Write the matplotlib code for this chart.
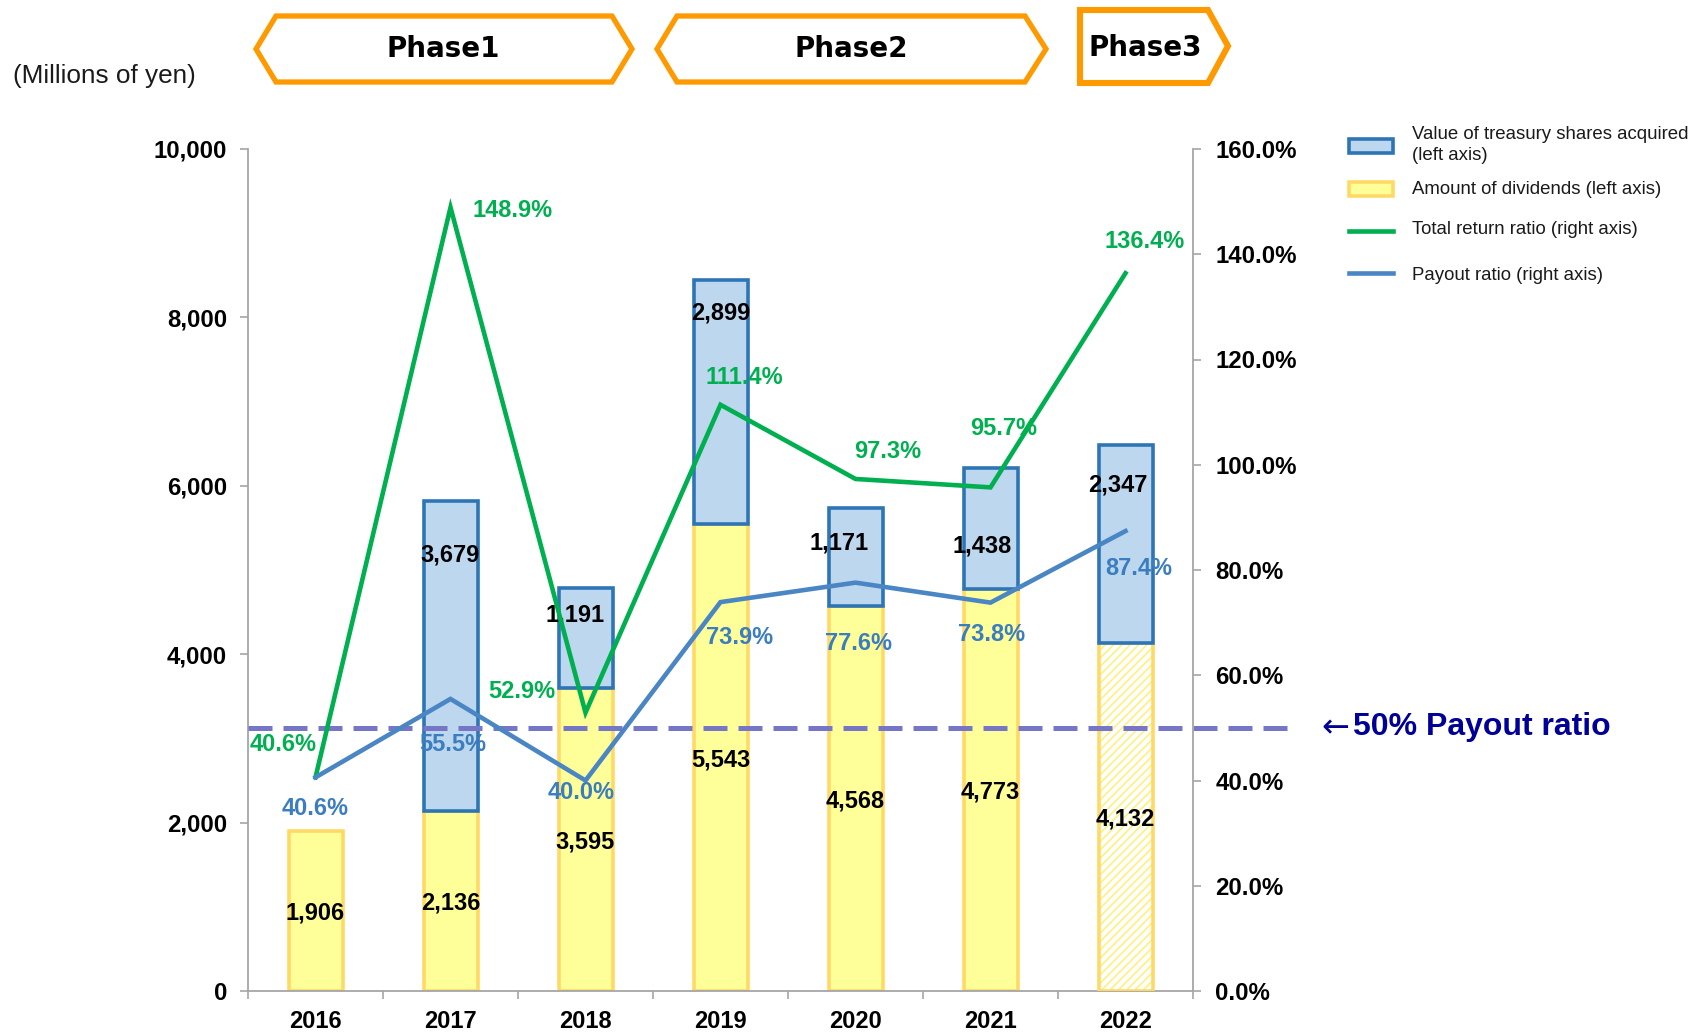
import matplotlib
matplotlib.use('Agg')
import matplotlib.pyplot as plt
from matplotlib.patches import Polygon, Rectangle
from matplotlib.lines import Line2D
import numpy as np

# ---------------- data ----------------
years = ['2016', '2017', '2018', '2019', '2020', '2021', '2022']
dividends = [1906, 2136, 3595, 5543, 4568, 4773, 4132]
treasury = [0, 3679, 1191, 2899, 1171, 1438, 2347]
total_return = [40.6, 148.9, 52.9, 111.4, 97.3, 95.7, 136.4]
payout = [40.6, 55.5, 40.0, 73.9, 77.6, 73.8, 87.4]
left_ticks = [0, 2000, 4000, 6000, 8000, 10000]
right_ticks = [0, 20, 40, 60, 80, 100, 120, 140, 160]
phases = ['Phase1', 'Phase2', 'Phase3']
legend_labels = ['Value of treasury shares acquired\n(left axis)',
                 'Amount of dividends (left axis)',
                 'Total return ratio (right axis)',
                 'Payout ratio (right axis)']
payout_target = 50

# ---------------- label placement (layout) ----------------
green_lab_pos = [(-0.24, 46.8), (0.46, 148.3), (-0.47, 57.0), (0.18, 116.5),
                 (0.24, 102.6), (0.10, 106.9), (0.14, 142.4)]
blue_lab_pos = [(0.0, 34.7), (0.02, 46.8), (-0.03, 37.7), (0.14, 67.1),
                (0.02, 66.1), (0.01, 67.7), (0.10, 80.2)]
treas_lab_pos = [None, (0.0, 5179), (-0.08, 4462), (0.0, 8051),
                 (-0.12, 5321), (-0.06, 5282), (-0.06, 6013)]

W, H = 1692, 1032
def fx(x):
    return x / W
def fy(y):
    return 1 - y / H

ARIAL = ['Liberation Sans', 'DejaVu Sans']
plt.rcParams['font.family'] = ARIAL
plt.rcParams['hatch.linewidth'] = 1.2

C_BLUE_FILL = '#BDD7EE'
C_BLUE_EDGE = '#2E75B6'
C_YEL_FILL = '#FFFF99'
C_YEL_EDGE = '#FFD966'
C_GREEN = '#00B050'
C_BLUE_LINE = '#4A86C4'
C_BLUE_TXT = '#3A7DC0'
C_ORANGE = '#FF9900'
C_AXIS = '#A6A6A6'

fig = plt.figure(figsize=(W / 100, H / 100), dpi=100)
ax = fig.add_axes([fx(248), fy(991), (1193 - 248) / W, (991 - 149) / H])
x = np.arange(len(years))
bw = 0.4

# dividends bars
for i in range(len(years)):
    if i == len(years) - 1:
        ax.bar(x[i], dividends[i], bw, color='white', edgecolor='#FFF080',
               hatch='////', linewidth=0, zorder=2)
        ax.bar(x[i], dividends[i], bw, fill=False, edgecolor=C_YEL_EDGE,
               linewidth=2.6, zorder=3)
    else:
        ax.bar(x[i], dividends[i], bw, color=C_YEL_FILL, edgecolor=C_YEL_EDGE,
               linewidth=2.6, zorder=2)
# treasury bars
for i in range(len(years)):
    if treasury[i] > 0:
        ax.bar(x[i], treasury[i], bw, bottom=dividends[i], color=C_BLUE_FILL,
               edgecolor=C_BLUE_EDGE, linewidth=2.6, zorder=3)

ax.set_xlim(-0.5, len(years) - 0.5)
ax.set_ylim(0, 10000)
ax.set_yticks(left_ticks)
ax.set_yticklabels([f'{v:,}' for v in left_ticks], fontsize=17.3, fontweight='bold')
ax.set_xticks(x)
ax.set_xticklabels(years, fontsize=17, fontweight='bold')
ax.set_xticks(np.arange(-0.5, len(years)), minor=True)
ax.tick_params(axis='x', which='major', length=0, pad=14)
ax.tick_params(axis='x', which='minor', length=6, color=C_AXIS, width=1.2)
ax.tick_params(axis='y', length=6, color=C_AXIS, width=1.2, pad=9)
for s in ['top', 'right']:
    ax.spines[s].set_visible(False)
for s in ['left', 'bottom']:
    ax.spines[s].set_color(C_AXIS)
    ax.spines[s].set_linewidth(1.3)

# value labels on bars
for i in range(len(years)):
    ax.text(x[i], dividends[i] / 2 - 25, f'{dividends[i]:,}', ha='center', va='center',
            fontsize=17, fontweight='bold', color='black', zorder=6)
    if treas_lab_pos[i] is not None:
        dx, yy = treas_lab_pos[i]
        ax.text(x[i] + dx, yy, f'{treasury[i]:,}', ha='center', va='center',
                fontsize=17, fontweight='bold', color='black', zorder=6)

# right axis
ax2 = ax.twinx()
ax2.set_ylim(0, 160)
ax2.set_yticks(right_ticks)
ax2.set_yticklabels([f'{v:.1f}%' for v in right_ticks], fontsize=17.3, fontweight='bold')
ax2.tick_params(axis='y', length=6, color=C_AXIS, width=1.2, pad=10)
for s in ['top', 'left', 'bottom']:
    ax2.spines[s].set_visible(False)
ax2.spines['right'].set_color(C_AXIS)
ax2.spines['right'].set_linewidth(1.3)

# 50% dashed line (extends past right axis)
ext = (1287 - 1193) / ((1193 - 248) / len(years))
dl, = ax2.plot([-0.5, len(years) - 0.5 + ext], [payout_target, payout_target],
               color='#7676C6', linewidth=3.6, clip_on=False, zorder=2)
dl.set_dashes((4.8, 2.2))

ax2.plot(x, total_return, color=C_GREEN, linewidth=3.3, zorder=4, solid_joinstyle='miter')
ax2.plot(x, payout, color=C_BLUE_LINE, linewidth=3.3, zorder=4, solid_joinstyle='miter')

for i in range(len(years)):
    dx, yy = green_lab_pos[i]
    ax2.text(x[i] + dx, yy, f'{total_return[i]:.1f}%', ha='center', va='center',
             fontsize=17, fontweight='bold', color=C_GREEN, zorder=6)
    dx, yy = blue_lab_pos[i]
    ax2.text(x[i] + dx, yy, f'{payout[i]:.1f}%', ha='center', va='center',
             fontsize=17, fontweight='bold', color=C_BLUE_TXT, zorder=6)

# "<-50% Payout ratio"
fig.text(fx(1321), fy(728), '\u2190', ha='left', va='center',
         fontsize=24, fontweight='normal', color='#000099', family=['DejaVu Sans'])
fig.text(fx(1353), fy(727), '50% Payout ratio', ha='left', va='center',
         fontsize=23, fontweight='bold', color='#000099', family=ARIAL)

fig.text(fx(13), fy(76), '(Millions of yen)', ha='left', va='center',
         fontsize=18.8, color='#1a1a1a')

# phase banners
def poly(pts, lw):
    p = Polygon([(fx(a), fy(b)) for a, b in pts], closed=True, fill=False,
                edgecolor=C_ORANGE, linewidth=lw, joinstyle='miter',
                transform=fig.transFigure)
    fig.add_artist(p)

poly([(256, 49), (276, 16), (612, 16), (632, 49), (612, 82), (276, 82)], 3.8)
poly([(657, 49), (677, 16), (1025, 16), (1046, 49), (1025, 82), (677, 82)], 3.8)
poly([(1080, 10), (1208, 10), (1228, 46), (1208, 83), (1080, 83)], 4.4)
for name, (px, py) in zip(phases, [(443, 49), (851, 49), (1145, 48)]):
    fig.text(fx(px), fy(py), name, ha='center', va='center', fontsize=20,
             fontweight='bold', family=['DejaVu Sans'], color='black')

# legend (manual)
def rect(x0, y0, x1, y1, fc, ec, lw):
    r = Rectangle((fx(x0), fy(y1)), (x1 - x0) / W, (y1 - y0) / H, facecolor=fc,
                  edgecolor=ec, linewidth=lw, transform=fig.transFigure)
    fig.add_artist(r)

rect(1349, 139, 1393, 153, C_BLUE_FILL, C_BLUE_EDGE, 2.6)
rect(1349, 182, 1393, 196, C_YEL_FILL, C_YEL_EDGE, 2.6)
fig.add_artist(Line2D([fx(1349), fx(1393)], [fy(231), fy(231)], color=C_GREEN,
                      linewidth=3.3, transform=fig.transFigure))
fig.add_artist(Line2D([fx(1349), fx(1393)], [fy(273), fy(273)], color=C_BLUE_LINE,
                      linewidth=3.3, transform=fig.transFigure))
for lab, yy in zip(legend_labels, [145, 189, 230, 275]):
    fig.text(fx(1412), fy(yy), lab, ha='left', va='center', fontsize=13.4,
             color='#1a1a1a', linespacing=1.3)

fig.savefig('out.png', dpi=100)
